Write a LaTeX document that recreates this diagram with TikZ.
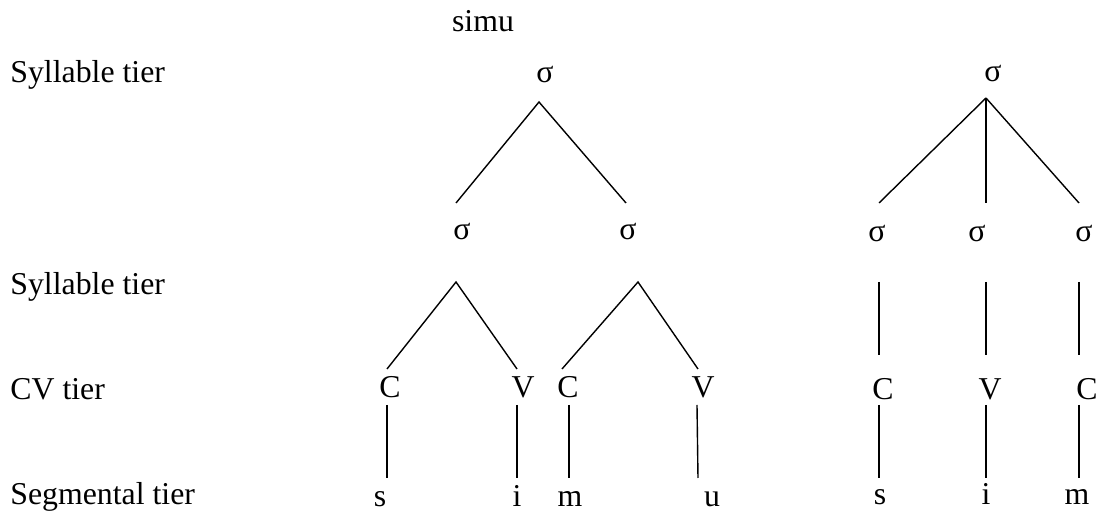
\documentclass[tikz,border=0pt]{standalone}
\usepackage{fontspec}
\setmainfont{Liberation Serif}
\begin{document}
\begin{tikzpicture}[x=0.5pt,y=-0.5pt,
  lbl/.style={anchor=base west,inner sep=0pt,font=\fontsize{15.9}{19}\selectfont},
  sym/.style={anchor=base,inner sep=0pt,font=\fontsize{15.9}{19}\selectfont},
  ln/.style={line width=0.7pt}]
\useasboundingbox (0,0) rectangle (1099,517);
% tier labels
\node[lbl] (l1) at (10,83) {Syllable tier};
\node[lbl] (l2) at (10,295) {Syllable tier};
\node[lbl] (l3) at (10,400) {CV tier};
\node[lbl] (l4) at (10,505) {Segmental tier};
\node[sym] (simu) at (483,32) {simu};
% left tree
\node[sym] (ts) at (545,83) {σ};
\node[sym] (s1) at (462,240) {σ};
\node[sym] (s2) at (628,240) {σ};
\node[sym] (c1) at (390,398) {C};
\node[sym] (v1) at (523,398) {V};
\node[sym] (c2) at (568,398) {C};
\node[sym] (v2) at (703,398) {V};
\node[sym] (g1) at (380,507) {s};
\node[sym] (g2) at (517,507) {i};
\node[sym] (g3) at (570,507) {m};
\node[sym] (g4) at (712,507) {u};
\coordinate (tsb) at (539,102);
\coordinate (s1t) at (456,203);
\coordinate (s2t) at (626,203);
\coordinate (s1b) at (456,282);
\coordinate (s2b) at (638,282);
\coordinate (c1t) at (387,369);
\coordinate (v1t) at (517,369);
\coordinate (c2t) at (562,369);
\coordinate (v2t) at (698,369);
\coordinate (c1b) at (387,405);
\coordinate (v1b) at (517,405);
\coordinate (c2b) at (569,405);
\coordinate (v2b) at (697,405);
\coordinate (g1t) at (387,478);
\coordinate (g2t) at (517,478);
\coordinate (g3t) at (569,478);
\coordinate (g4t) at (698,478);
\draw[ln] (s1t) -- (tsb) -- (s2t);
\draw[ln] (c1t) -- (s1b) -- (v1t);
\draw[ln] (c2t) -- (s2b) -- (v2t);
\draw[ln] (c1b) -- (g1t);
\draw[ln] (v1b) -- (g2t);
\draw[ln] (c2b) -- (g3t);
\draw[ln] (v2b) -- (g4t);
% right tree
\node[sym] (rt) at (993,82) {σ};
\node[sym] (r1) at (877,242) {σ};
\node[sym] (r2) at (977,242) {σ};
\node[sym] (r3) at (1084,242) {σ};
\node[sym] (rc1) at (883,400) {C};
\node[sym] (rv) at (990,400) {V};
\node[sym] (rc2) at (1087,400) {C};
\node[sym] (rg1) at (880,505) {s};
\node[sym] (rg2) at (986,505) {i};
\node[sym] (rg3) at (1077,505) {m};
\coordinate (rtb) at (986,98);
\coordinate (r1t) at (879,203);
\coordinate (r2t) at (986,203);
\coordinate (r3t) at (1079,203);
\coordinate (r1b) at (879,282);
\coordinate (r2b) at (986,282);
\coordinate (r3b) at (1079,282);
\coordinate (rc1t) at (879,355);
\coordinate (rvt) at (986,355);
\coordinate (rc2t) at (1079,355);
\coordinate (rc1b) at (879,405);
\coordinate (rvb) at (986,405);
\coordinate (rc2b) at (1079,405);
\coordinate (rg1t) at (879,478);
\coordinate (rg2t) at (986,478);
\coordinate (rg3t) at (1079,478);
\draw[ln] (rtb) -- (r1t);
\draw[ln] (rtb) -- (r2t);
\draw[ln] (rtb) -- (r3t);
\draw[ln] (r1b) -- (rc1t);
\draw[ln] (r2b) -- (rvt);
\draw[ln] (r3b) -- (rc2t);
\draw[ln] (rc1b) -- (rg1t);
\draw[ln] (rvb) -- (rg2t);
\draw[ln] (rc2b) -- (rg3t);
\end{tikzpicture}
\end{document}
